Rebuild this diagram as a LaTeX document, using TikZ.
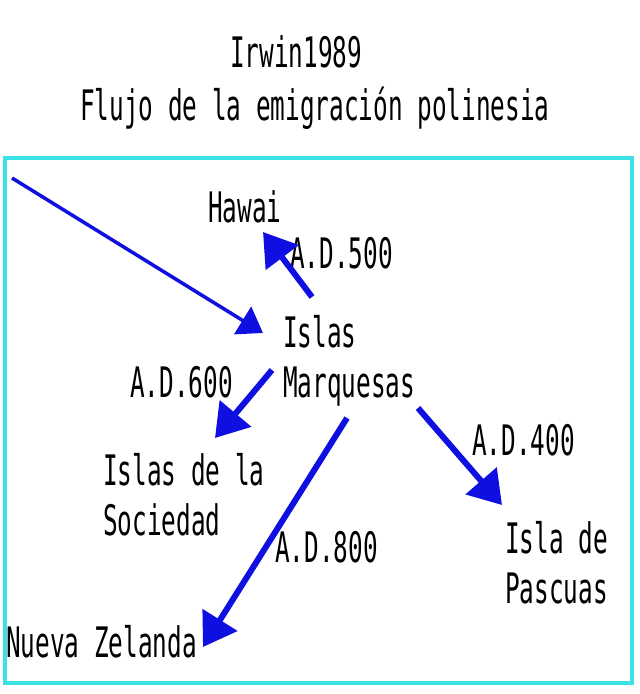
\documentclass[tikz,border=0pt]{standalone}
\usepackage{fontspec}
\usepackage{tikz}
\usetikzlibrary{arrows.meta, positioning}
\newfontfamily\gothfont[FakeStretch=0.58]{DejaVu Sans Mono}
\definecolor{routeblue}{RGB}{15,15,225}
\definecolor{framecyan}{RGB}{60,225,230}

\begin{document}
\begin{tikzpicture}[
        x=1pt, y=-1pt,
        every node/.style={font=\gothfont\fontsize{42}{50}\selectfont, inner sep=0pt, anchor=base west},
        place/.style={align=left},
        route/.style={draw=routeblue, line width=6pt, -{Triangle[length=32pt, width=40pt]}, routeblue},
        drift/.style={draw=routeblue, line width=3.5pt, -{Triangle[length=24pt, width=32pt]}, routeblue}
    ]
        \useasboundingbox (0,0) rectangle (640,694);
        \draw[framecyan, line width=4pt] (5,158) rectangle (632,683);

        \node (title) at (230,67) {Irwin1989};
        \node (subtitle) at (80,120) {Flujo de la emigración polinesia};

        \node[place] (hawai) at (208,222) {Hawai};
        \node[place] (marq) at (283,397) {Islas\\Marquesas};
        \node[place] (soc) at (103,535) {Islas de la\\Sociedad};
        \node[place] (pascua) at (505,603) {Isla de\\Pascuas};
        \node[place] (nz) at (6,657) {Nueva Zelanda};

        \node (d500) at (290,268) {A.D.500};
        \node (d600) at (130,397) {A.D.600};
        \node (d400) at (472,455) {A.D.400};
        \node (d800) at (275,562) {A.D.800};

        \coordinate (west) at (12,178);
        \coordinate (m0) at (263,333);
        \coordinate (m1) at (312,297);
        \coordinate (h1) at (263,232);
        \coordinate (m2) at (272,370);
        \coordinate (s1) at (215,438);
        \coordinate (m3) at (347,418);
        \coordinate (n1) at (203,647);
        \coordinate (m4) at (418,408);
        \coordinate (p1) at (502,505);

        \draw[drift] (west) -- (m0);
        \draw[route] (m1) -- (h1);
        \draw[route] (m2) -- (s1);
        \draw[route] (m3) -- (n1);
        \draw[route] (m4) -- (p1);
    \end{tikzpicture}
\end{document}
